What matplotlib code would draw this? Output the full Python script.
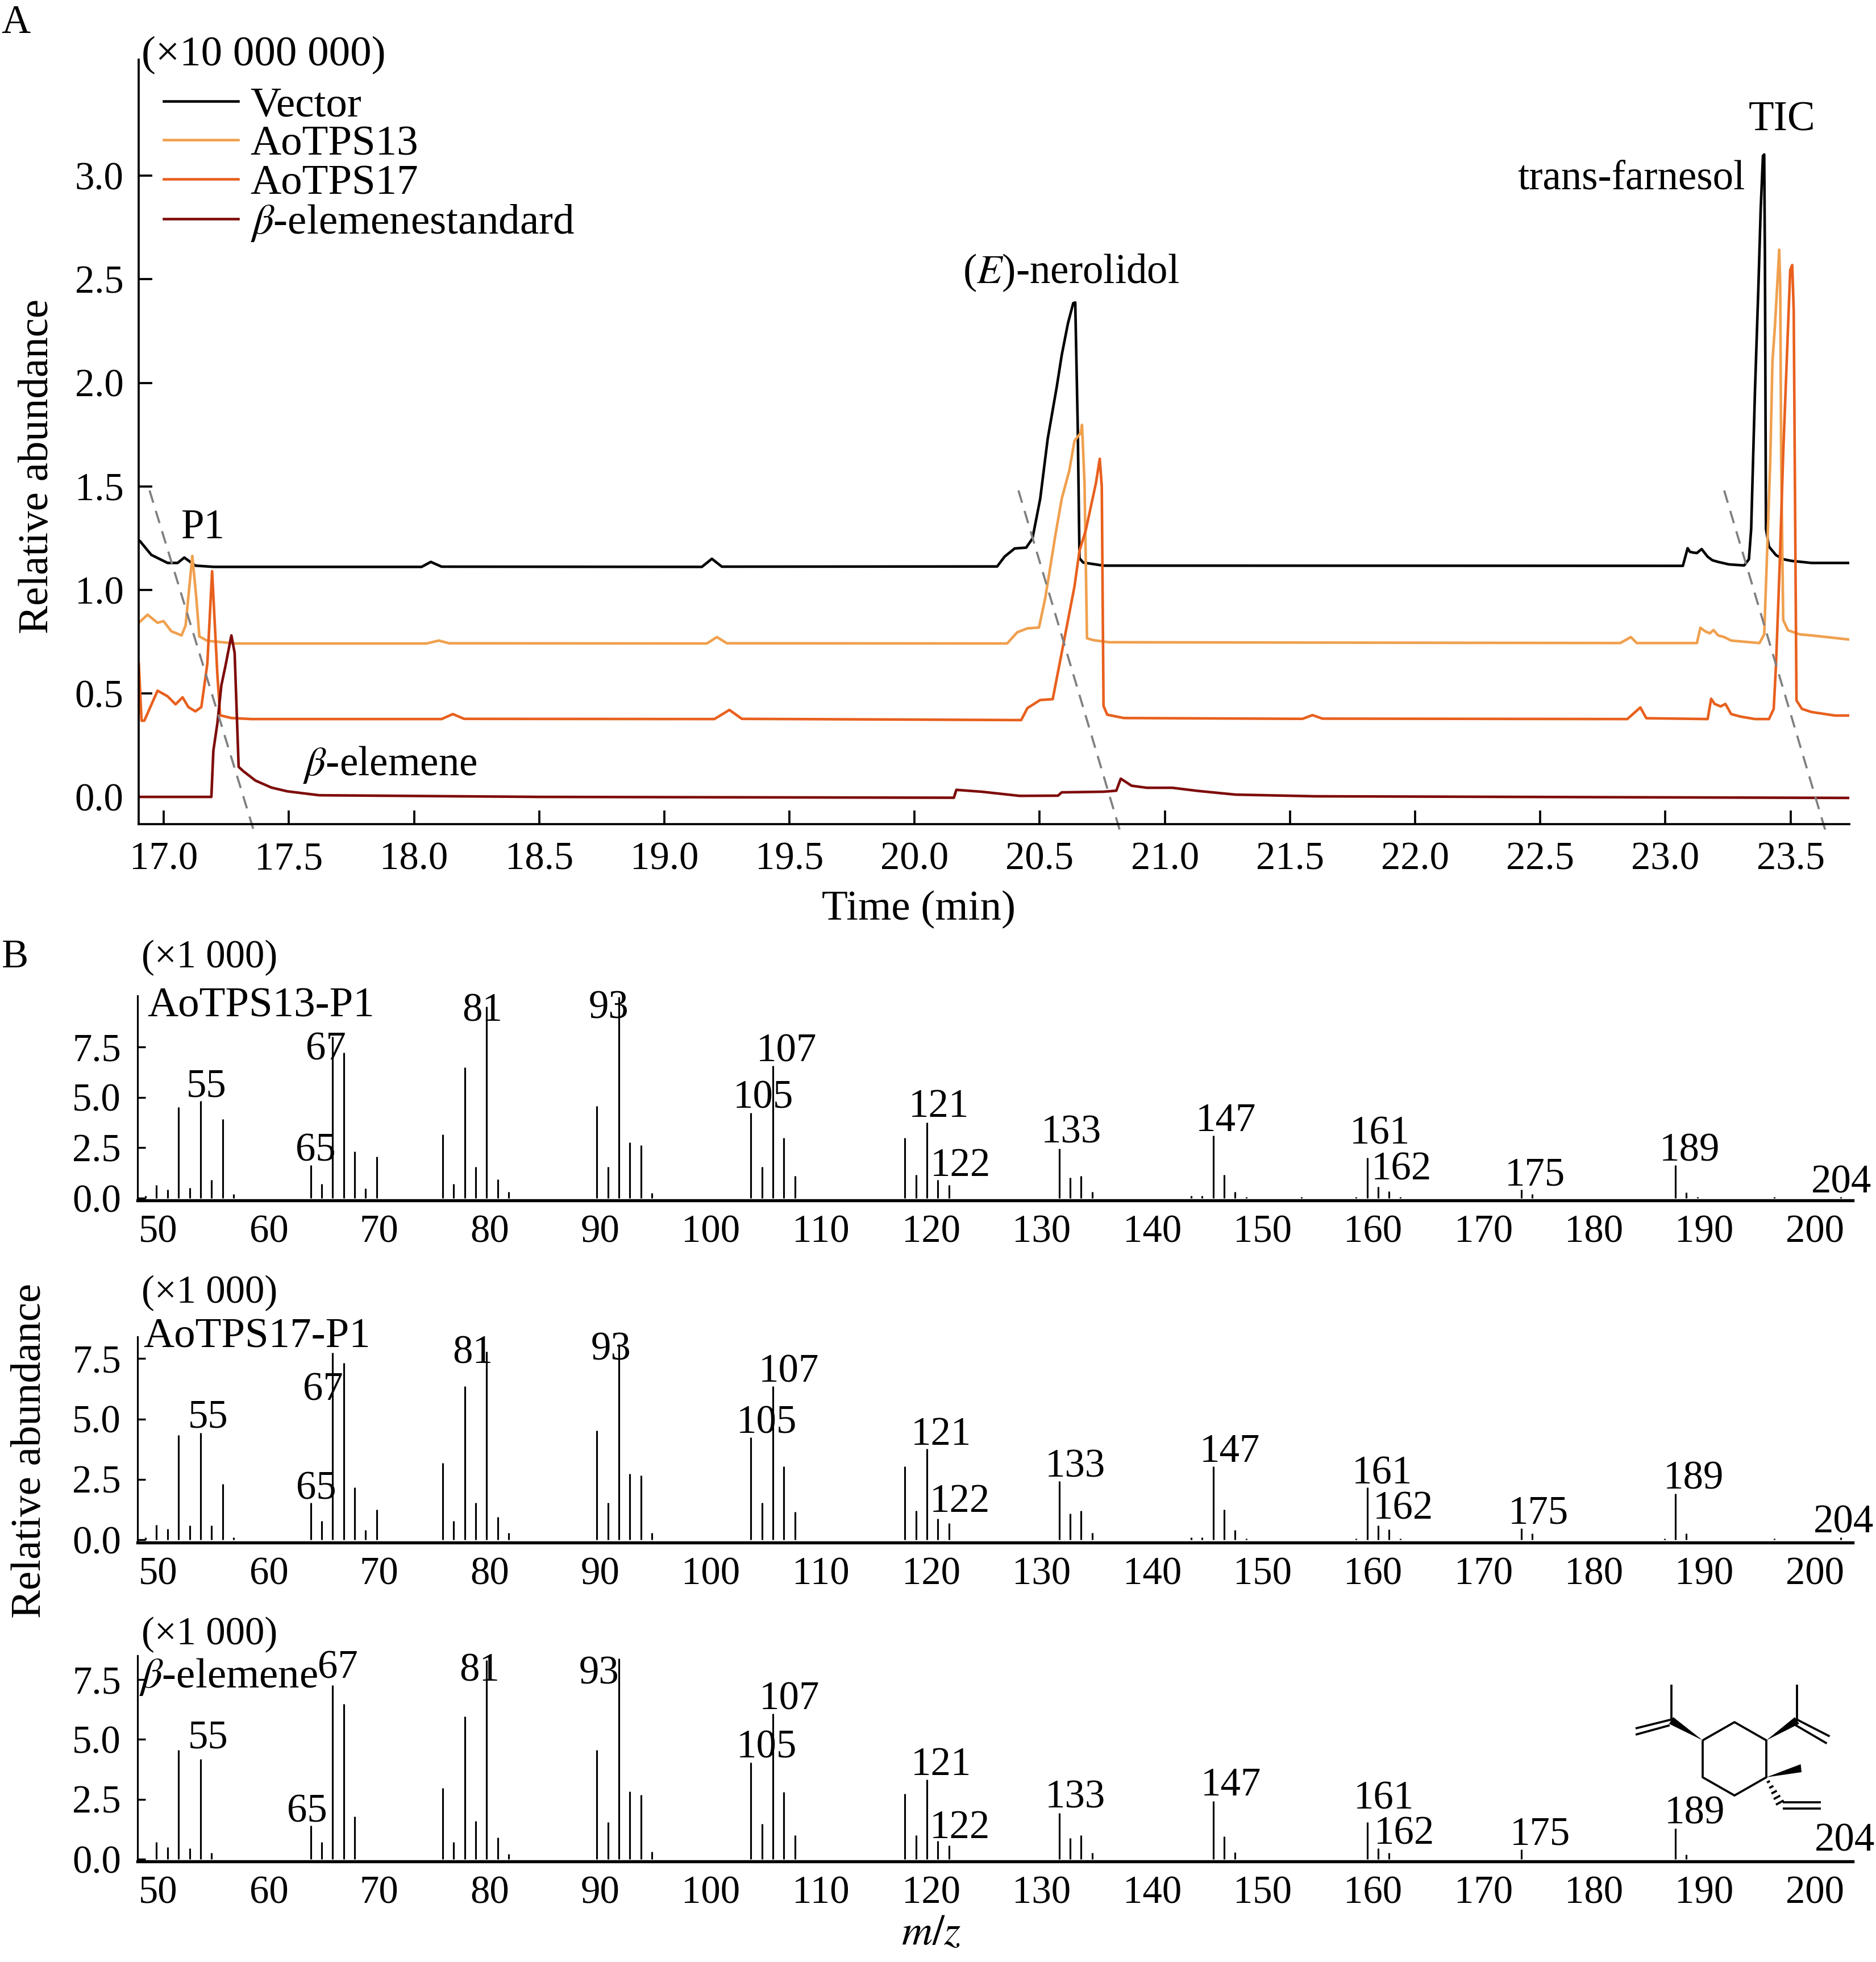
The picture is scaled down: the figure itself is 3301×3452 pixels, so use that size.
import matplotlib.pyplot as plt
import numpy as np
from matplotlib.patches import Polygon

plt.rcParams['font.family'] = 'serif'
plt.rcParams['font.serif'] = ['Liberation Serif', 'DejaVu Serif']
plt.rcParams['mathtext.fontset'] = 'stix'

W, H = 3301, 3452

# ---------------- panel A : TIC traces (min, x10 000 000) ----------------
vector_t = [16.90, 16.905, 16.95, 17.015, 17.055, 17.082, 17.126, 17.2,
            18.03, 18.067, 18.11, 19.15, 19.19, 19.23,
            20.33, 20.36, 20.40, 20.446, 20.471, 20.502, 20.532, 20.568, 20.588, 20.613,
            20.634, 20.642, 20.652, 20.659, 20.674, 20.755,
            23.07, 23.089, 23.098, 23.112, 23.126, 23.145, 23.169, 23.188, 23.211, 23.254, 23.315,
            23.334, 23.343, 23.358, 23.372, 23.381, 23.39, 23.395, 23.398, 23.402, 23.414,
            23.442, 23.471, 23.504, 23.584, 23.735]
vector_y = [1.24, 1.235, 1.169, 1.13, 1.13, 1.156, 1.117, 1.111,
            1.111, 1.135, 1.112, 1.111, 1.15, 1.112,
            1.113, 1.161, 1.2, 1.204, 1.248, 1.44, 1.73, 1.98, 2.134, 2.288,
            2.385, 2.388, 1.787, 1.152, 1.132, 1.117,
            1.116, 1.201, 1.184, 1.18, 1.178, 1.197, 1.16, 1.143, 1.135, 1.123, 1.118,
            1.148, 1.295, 1.956, 2.471, 2.839, 3.096, 3.103, 2.594, 1.295, 1.209,
            1.168, 1.148, 1.14, 1.13, 1.13]

tps13_t = [16.90, 16.935, 16.975, 16.999, 17.03, 17.071, 17.087, 17.114, 17.13, 17.142, 17.174, 17.286,
           18.05, 18.099, 18.14, 19.17, 19.21, 19.25,
           20.37, 20.41, 20.451, 20.497, 20.522, 20.563, 20.588, 20.618, 20.639, 20.664, 20.669,
           20.679, 20.689, 20.715, 20.776,
           22.82, 22.862, 22.886,
           23.126, 23.14, 23.159, 23.178, 23.192, 23.211, 23.235, 23.263, 23.376, 23.395, 23.405,
           23.419, 23.428, 23.438, 23.447, 23.455, 23.459, 23.463, 23.471, 23.49, 23.537, 23.584, 23.735]
tps13_y = [0.841, 0.88, 0.841, 0.849, 0.80, 0.78, 0.828, 1.164, 0.959, 0.775, 0.754, 0.741,
           0.741, 0.755, 0.742, 0.741, 0.772, 0.742,
           0.741, 0.795, 0.814, 0.818, 0.959, 1.267, 1.44, 1.575, 1.72, 1.758, 1.797,
           1.518, 0.766, 0.757, 0.747,
           0.743, 0.772, 0.743,
           0.743, 0.817, 0.80, 0.79, 0.806, 0.78, 0.772, 0.755, 0.743, 0.785, 1.123,
           1.613, 2.104, 2.275, 2.471, 2.643, 2.471, 1.613, 0.854, 0.805, 0.785, 0.78, 0.76]

tps17_t = [16.90, 16.911, 16.922, 16.975, 17.015, 17.047, 17.075, 17.098, 17.126, 17.15, 17.174,
           17.193, 17.214, 17.225, 17.27, 17.35,
           18.11, 18.155, 18.2, 19.2, 19.26, 19.31,
           20.426, 20.451, 20.502, 20.552, 20.593, 20.639, 20.659, 20.684, 20.725, 20.74, 20.748,
           20.755, 20.77, 20.836,
           21.55, 21.59, 21.63, 22.848, 22.9, 22.924,
           23.169, 23.183, 23.197, 23.221, 23.24, 23.263, 23.3, 23.358, 23.414, 23.433, 23.442,
           23.457, 23.471, 23.485, 23.499, 23.507, 23.513, 23.52, 23.524, 23.546, 23.584, 23.678, 23.735]
tps17_y = [0.644, 0.368, 0.368, 0.513, 0.486, 0.447, 0.481, 0.434, 0.413, 0.434, 0.644,
           1.09, 0.591, 0.394, 0.381, 0.376,
           0.376, 0.40, 0.377, 0.376, 0.42, 0.377,
           0.371, 0.429, 0.468, 0.472, 0.728, 1.017, 1.19, 1.287, 1.518, 1.633, 1.499,
           0.439, 0.397, 0.381,
           0.377, 0.395, 0.378, 0.376, 0.432, 0.38,
           0.376, 0.474, 0.449, 0.437, 0.449, 0.40, 0.388, 0.376, 0.376, 0.425, 0.633,
           1.123, 1.662, 2.104, 2.545, 2.569, 2.349, 1.123, 0.466, 0.425, 0.41, 0.393, 0.393]

std_t = [16.90, 17.19, 17.198, 17.214, 17.23, 17.246, 17.27, 17.283, 17.299, 17.318, 17.366,
         17.43, 17.493, 17.621, 18.5, 20.157, 20.167, 20.268, 20.42, 20.573, 20.588, 20.755,
         20.806, 20.824, 20.867, 20.928, 21.03, 21.131, 21.283, 21.6, 23.735]
std_y = [0.0, 0.0, 0.223, 0.355, 0.539, 0.631, 0.78, 0.696, 0.145, 0.124, 0.079,
         0.045, 0.027, 0.008, 0.0, -0.004, 0.034, 0.025, 0.005, 0.006, 0.022, 0.025,
         0.03, 0.088, 0.054, 0.044, 0.044, 0.029, 0.011, 0.003, -0.005]

trace_names = ['Vector', 'AoTPS13', 'AoTPS17', r'$\beta$-elemenestandard']
trace_colors = ['#000000', '#F0A04E', '#E8601E', '#7E0B0B']

# dashed guide lines (start time, end time)
guide_start = [16.943, 20.415, 23.235]
guide_end = [17.36, 20.821, 23.64]

# ---------------- panel B : mass spectra (m/z, x1 000) ----------------
mz13 = [50, 51, 52, 53, 54, 55, 56, 57, 58, 65, 66, 67, 68, 69, 70, 71, 77, 78, 79, 80, 81, 82, 83,
        91, 92, 93, 94, 95, 96, 105, 106, 107, 108, 109, 119, 120, 121, 122, 123, 133, 134, 135, 136,
        145, 146, 147, 148, 149, 150, 155, 160, 161, 162, 163, 164, 175, 176, 189, 190, 191, 198, 204]
int13 = [0.1, 0.64, 0.42, 4.5, 0.5, 4.82, 0.89, 3.91, 0.2, 1.63, 0.71, 8.0, 7.23, 2.3, 0.48, 2.06,
         3.15, 0.71, 6.5, 1.55, 9.5, 0.94, 0.32, 4.57, 1.55, 10.0, 2.77, 2.62, 0.25,
         4.23, 1.55, 6.58, 2.99, 1.09, 2.99, 1.16, 3.75, 0.89, 0.64, 2.46, 1.01, 1.09, 0.32,
         0.1, 0.1, 3.09, 1.16, 0.32, 0.05, 0.05, 0.05, 2.0, 0.56, 0.33, 0.05, 0.43, 0.2,
         1.63, 0.27, 0.05, 0.05, 0.05]

mz17 = [50, 51, 52, 53, 54, 55, 56, 57, 58, 65, 66, 67, 68, 69, 70, 71, 77, 78, 79, 80, 81, 82, 83,
        91, 92, 93, 94, 95, 96, 105, 106, 107, 108, 109, 119, 120, 121, 122, 123, 133, 134, 135, 136,
        145, 146, 147, 148, 149, 150, 160, 161, 162, 163, 164, 175, 176, 188, 189, 190, 198, 204]
int17 = [0.1, 0.62, 0.45, 4.32, 0.58, 4.43, 0.58, 2.3, 0.1, 1.53, 0.77, 7.74, 7.31, 2.17, 0.4, 1.25,
         3.18, 0.77, 6.36, 1.53, 7.8, 0.95, 0.29, 4.51, 1.53, 8.1, 2.73, 2.67, 0.29,
         4.24, 1.53, 6.35, 3.04, 1.16, 3.04, 1.2, 3.76, 0.87, 0.69, 2.42, 1.07, 1.2, 0.29,
         0.1, 0.1, 3.04, 1.25, 0.4, 0.05, 0.05, 2.17, 0.58, 0.41, 0.05, 0.48, 0.25,
         0.05, 1.91, 0.25, 0.05, 0.1]

mzstd = [51, 52, 53, 54, 55, 56, 65, 66, 67, 68, 69, 77, 78, 79, 80, 81, 82, 83,
         91, 92, 93, 94, 95, 96, 105, 106, 107, 108, 109, 119, 120, 121, 122, 123, 133, 134, 135, 136,
         147, 148, 149, 161, 162, 163, 175, 189, 190]
intstd = [0.71, 0.5, 4.56, 0.46, 4.17, 0.27, 1.4, 0.71, 7.27, 6.48, 1.79, 2.96, 0.71, 5.96, 1.6, 8.3,
          0.89, 0.21, 4.56, 1.54, 8.37, 2.83, 2.69, 0.31, 4.03, 1.46, 6.08, 2.8, 1.0,
          2.73, 1.0, 3.32, 0.75, 0.57, 1.92, 0.88, 1.0, 0.25, 2.43, 0.94, 0.29,
          1.53, 0.44, 0.25, 0.4, 1.28, 0.18]

mz_ticks = np.arange(50, 201, 10)
spec_names = ['AoTPS13-P1', 'AoTPS17-P1', r'$\beta$-elemene']

# peak labels: (text, x, y) for each spectrum
labels13 = [('55', 55.51, 5.74), ('67', 66.38, 7.57), ('65', 65.44, 2.55), ('81', 80.62, 9.48),
            ('93', 92.1, 9.63), ('105', 106.1, 5.18), ('107', 108.24, 7.5), ('121', 122.05, 4.73),
            ('122', 124.04, 1.81), ('133', 134.11, 3.44), ('147', 148.14, 4.04), ('161', 162.13, 3.4),
            ('162', 164.11, 1.63), ('175', 176.22, 1.34), ('189', 190.3, 2.55), ('204', 204.1, 0.97)]
labels17 = [('55', 55.69, 5.23), ('67', 66.12, 6.37), ('65', 65.51, 2.28), ('81', 79.71, 7.9),
            ('93', 92.29, 8.04), ('105', 106.43, 5.01), ('107', 108.46, 7.11), ('121', 122.3, 4.51),
            ('122', 123.97, 1.74), ('133', 134.47, 3.19), ('147', 148.5, 3.81), ('161', 162.36, 2.9),
            ('162', 164.28, 1.45), ('175', 176.55, 1.25), ('189', 190.65, 2.69), ('204', 204.27, 0.89)]
labelsstd = [('55', 55.69, 5.24), ('67', 67.46, 8.15), ('65', 64.68, 2.15), ('81', 80.33, 8.03),
             ('93', 91.2, 7.92), ('105', 106.43, 4.82), ('107', 108.49, 6.86), ('121', 122.3, 4.11),
             ('122', 124.0, 1.48), ('133', 134.47, 2.73), ('147', 148.6, 3.24), ('161', 162.52, 2.69),
             ('162', 164.34, 1.23), ('175', 176.72, 1.19), ('189', 190.73, 2.07), ('204', 204.37, 0.94)]


def px(x, y):
    # figure pixel (from top-left) to figure fraction
    return x / W, 1 - y / H


fig = plt.figure(figsize=(W / 300, H / 300), dpi=300)

# ---------- A ----------
axA = fig.add_axes([0.07398, 0.58001, 0.91178, 0.38949])
for t, y, c, n in zip([vector_t, tps13_t, tps17_t, std_t], [vector_y, tps13_y, tps17_y, std_y],
                      trace_colors, trace_names):
    axA.plot(t, y, color=c, lw=1.1, label=n, solid_joinstyle='round')
for t0, t1 in zip(guide_start, guide_end):
    axA.plot([t0, t1], [1.48, -0.165], color='#808080', lw=0.9, dashes=(6, 4), clip_on=False)

axA.set_xlim(16.90, 23.735)
axA.set_ylim(-0.131, 3.56)
axA.set_xticks(np.arange(17.0, 23.51, 0.5))
axA.set_xticklabels([f'{v:.1f}' for v in np.arange(17.0, 23.51, 0.5)])
axA.set_yticks(np.arange(0, 3.01, 0.5))
axA.set_yticklabels([f'{v:.1f}' for v in np.arange(0, 3.01, 0.5)])
axA.tick_params(direction='in', length=5.8, width=0.9, labelsize=16.5)
axA.tick_params(axis='y', pad=6.4)
axA.tick_params(axis='x', pad=7.5)
for s in ['top', 'right']:
    axA.spines[s].set_visible(False)
for s in ['left', 'bottom']:
    axA.spines[s].set_linewidth(0.9)

leg = axA.legend(loc='upper left', bbox_to_anchor=(0.0145, 0.9655), frameon=False, fontsize=18,
                 handlelength=1.75, handletextpad=0.28, labelspacing=0.0, borderpad=0, borderaxespad=0)
for line in leg.get_lines():
    line.set_linewidth(1.1)

axA.text(16.911, 3.533, '(×10 000 000)', fontsize=18, ha='left', va='baseline')
axA.text(17.158, 1.248, 'P1', fontsize=17.5, ha='center', va='baseline')
axA.text(17.556, 0.105, r'$\beta$-elemene', fontsize=17.5, ha='left', va='baseline')
axA.text(20.625, 2.481, r'($\mathit{E}$)-nerolidol', fontsize=17.5, ha='center', va='baseline')
axA.text(22.864, 2.937, 'trans-farnesol', fontsize=17.5, ha='center', va='baseline')
axA.text(23.466, 3.218, 'TIC', fontsize=17.5, ha='center', va='baseline')

fig.text(*px(66, 820), 'Relative abundance', rotation=90, fontsize=18, ha='center', va='center')
fig.text(*px(1616, 1600), 'Time (min)', fontsize=18, ha='center', va='center')
fig.text(*px(28, 41), 'A', fontsize=17, ha='center', va='center')

# ---------- B ----------
rects = [[0.07331, 0.38804, 0.91421, 0.10449],
         [0.07331, 0.21382, 0.91421, 0.10490],
         [0.07331, 0.05125, 0.91421, 0.10490]]
ylims = [(-0.13, 10.05), (-0.118, 8.41), (-0.1, 8.5)]
name_pos = [(50.18, 9.01), (49.82, 7.96), (49.35, 7.17)]
scale_y = [1685, 2275, 2876]
spectra = [(mz13, int13, labels13), (mz17, int17, labels17), (mzstd, intstd, labelsstd)]

for i, (mz, inten, labs) in enumerate(spectra):
    ax = fig.add_axes(rects[i])
    ax.vlines(mz, 0, inten, colors='black', lw=0.75, clip_on=False)
    ax.set_xlim(49.27, 205.1)
    ax.set_ylim(*ylims[i])
    # tick labels sit slightly right of the bar positions in the original
    ax.set_xticks(51.16 + 1.0033 * (mz_ticks - 50))
    ax.set_xticklabels([str(v) for v in mz_ticks])
    ax.set_yticks([0, 2.5, 5.0, 7.5])
    ax.set_yticklabels(['0.0', '2.5', '5.0', '7.5'])
    ax.tick_params(axis='x', length=0, pad=6, labelsize=16.5)
    ax.tick_params(axis='y', direction='in', length=3.4, width=0.8, pad=7, labelsize=16.5)
    for s in ['top', 'right']:
        ax.spines[s].set_visible(False)
    ax.spines['left'].set_linewidth(0.75)
    ax.spines['bottom'].set_linewidth(1.3)
    for txt, x, y in labs:
        ax.text(x, y, txt, fontsize=17, ha='center', va='center_baseline')
    ax.text(name_pos[i][0], name_pos[i][1], spec_names[i], fontsize=18, ha='left', va='baseline')
    fig.text(*px(249, scale_y[i]), '(×1 000)', fontsize=16.5, ha='left', va='center')

fig.text(*px(53, 2552), 'Relative abundance', rotation=90, fontsize=18, ha='center', va='center')
fig.text(*px(1639, 3403), r'$m/z$', fontsize=18, ha='center', va='center')
fig.text(*px(27, 1685), 'B', fontsize=17, ha='center', va='center')

# ---------- beta-elemene structure (drawn in pixel space) ----------
axS = fig.add_axes([2860 / W, 1 - 3200 / H, 380 / W, 250 / H])
axS.set_xlim(2860, 3240)
axS.set_ylim(3200, 2950)
axS.axis('off')
bond = dict(color='black', lw=0.9, solid_capstyle='butt')
ring_x = [2996, 3052, 3108, 3108, 3052, 2996, 2996]
ring_y = [3062, 3030, 3062, 3127, 3159, 3127, 3062]
axS.plot(ring_x, ring_y, **bond)
# left isopropenyl
axS.plot([2940.5, 2940.5], [3027, 2964], **bond)
axS.plot([2878, 2940.5], [3041, 3025.5], **bond)
axS.plot([2878, 2938], [3052, 3035.5], **bond)
axS.add_patch(Polygon([(2996, 3062), (2944.2, 3021.1), (2936.8, 3032.9)], closed=True, color='black', lw=0))
# right isopropenyl
axS.plot([3162, 3162], [3027, 2964], **bond)
axS.plot([3162, 3219.5], [3025.5, 3055], **bond)
axS.plot([3159, 3214.4], [3035, 3067.4], **bond)
axS.add_patch(Polygon([(3108, 3062), (3165.8, 3032.9), (3158.2, 3021.1)], closed=True, color='black', lw=0))
# methyl wedge
axS.add_patch(Polygon([(3108, 3127), (3168.5, 3104), (3170, 3118)], closed=True, color='black', lw=0))
# hashed bond to vinyl
ux, uy = 0.48, 0.88
for f in [0.15, 0.35, 0.55, 0.75, 0.95]:
    cx, cy = 3108 + 52 * f * ux, 3128 + 52 * f * uy
    hl = 2 + 6 * f
    axS.plot([cx - hl * 0.88, cx + hl * 0.88], [cy + hl * 0.48, cy - hl * 0.48], **bond)
axS.plot([3136.5, 3203.6], [3171, 3171], **bond)
axS.plot([3136.5, 3203.6], [3181.5, 3181.5], **bond)

fig.savefig('out.png', dpi=300)
